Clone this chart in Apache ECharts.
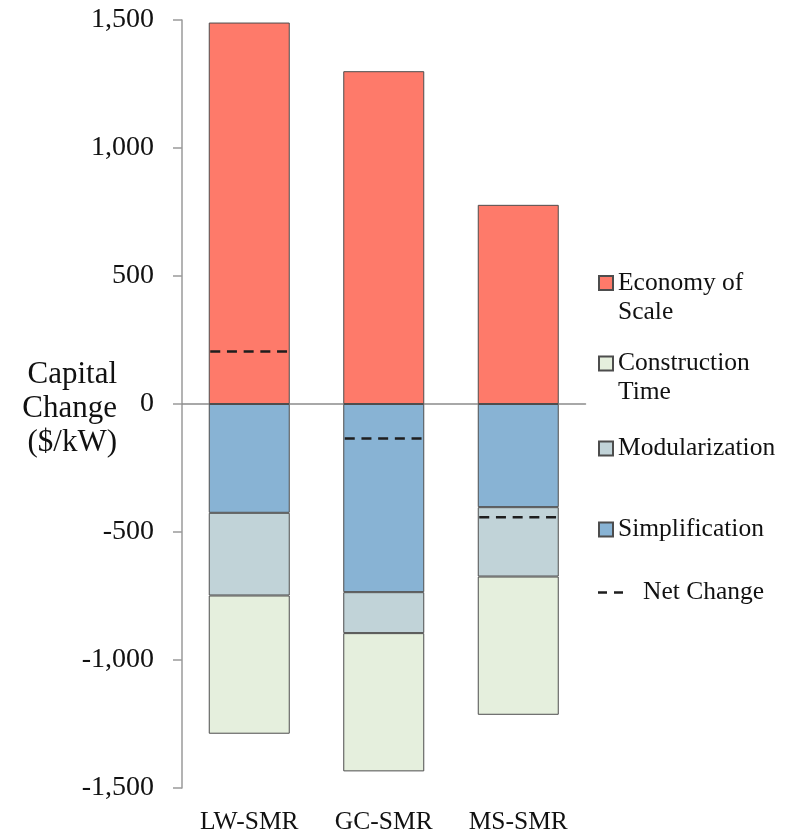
<!DOCTYPE html>
<html>
<head>
<meta charset="utf-8">
<script src="https://cdn.jsdelivr.net/npm/echarts@6/dist/echarts.min.js"></script>
<style>
  html, body { margin: 0; padding: 0; background: #fff; }
  #chart { width: 795px; height: 836px; }
</style>
</head>
<body>
<div id="chart"></div>
<script>
// Capital cost change by driver for three small modular reactor designs ($/kW)
const categories = ['LW-SMR', 'GC-SMR', 'MS-SMR'];
const economyOfScale = [1490, 1300, 778];
const simplification = [-425, -735, -403];
const modularization = [-323, -160, -271];
const constructionTime = [-540, -540, -540];
const netChange = [205, -135, -442];
const yTicks = [-1500, -1000, -500, 0, 500, 1000, 1500];

const FONT = '"Liberation Serif", "Times New Roman", serif';
const BORDER = '#4d4d4d';
const COLORS = {
  economy: '#FE7A6A',
  construction: '#E5EFDD',
  modular: '#C1D3D8',
  simplify: '#88B3D4',
  net: '#1e1e1e'
};

// square swatch for single-line entries; the taller variant keeps the swatch
// level with the first line of a two-line label
const SWATCH = 'rect';
const SWATCH_TALL = 'path://M0,0H14V14H0Z M7,43';

const chart = echarts.init(document.getElementById('chart'), null, { renderer: 'canvas' });

function barSeries(name, data, color) {
  return {
    name: name,
    type: 'bar',
    stack: 'total',
    xAxisIndex: 0,
    data: data,
    barWidth: 81,
    itemStyle: { color: color, borderColor: BORDER, borderWidth: 1 },
    emphasis: { disabled: true }
  };
}

const legendText = { fontFamily: FONT, fontSize: 25.5, color: '#111', lineHeight: 29 };

// one legend block per entry so that spacing follows the wrapped labels
function legendBlock(name, top, extra) {
  return Object.assign({
    data: [name],
    orient: 'vertical',
    left: 598,
    top: top,
    padding: 0,
    icon: SWATCH,
    itemWidth: 14,
    itemHeight: 14,
    selectedMode: false,
    textStyle: legendText
  }, extra || {});
}

const option = {
  animation: false,
  backgroundColor: '#fff',
  grid: { left: 182, top: 20, width: 403.5, height: 768, containLabel: false, outerBoundsMode: 'none' },
  xAxis: [
    {
      type: 'category',
      data: categories,
      position: 'bottom',
      axisLine: { show: false, onZero: false },
      axisTick: { show: false },
      axisLabel: { fontFamily: FONT, fontSize: 25.5, color: '#111', margin: 21, interval: 0, hideOverlap: false },
      splitLine: { show: false }
    },
    {
      type: 'category',
      data: categories,
      position: 'bottom',
      axisLine: { show: true, onZero: true, lineStyle: { color: '#8c8c8c', width: 1.5 } },
      axisTick: { show: false },
      axisLabel: { show: false },
      splitLine: { show: false }
    }
  ],
  yAxis: {
    type: 'value',
    min: yTicks[0],
    max: yTicks[yTicks.length - 1],
    interval: 500,
    // a thin spacer line on top nudges the three-line title slightly downward
    name: '{gap| }\n{t|Capital}\n{t|Change}\n{t|($/kW)}',
    nameLocation: 'middle',
    nameRotate: 0,
    nameGap: 65,
    nameMoveOverlap: false,
    nameTextStyle: {
      fontFamily: FONT, fontSize: 31, color: '#111',
      rich: {
        gap: { fontSize: 2, height: 10, lineHeight: 10 },
        t: { fontFamily: FONT, fontSize: 31, color: '#111', lineHeight: 34 }
      }
    },
    axisLine: { show: true, lineStyle: { color: '#9a9a9a', width: 1.5 } },
    axisTick: { show: true, inside: false, length: 9, lineStyle: { color: '#9a9a9a', width: 1.5 } },
    axisLabel: {
      fontFamily: FONT, fontSize: 28, color: '#111', margin: 28,
      formatter: v => v.toLocaleString('en-US')
    },
    splitLine: { show: false }
  },
  legend: [
    legendBlock('Economy of Scale', 268.5, { icon: SWATCH_TALL, itemHeight: 43, formatter: () => 'Economy of\nScale' }),
    legendBlock('Construction Time', 349, { icon: SWATCH_TALL, itemHeight: 43, formatter: () => 'Construction\nTime' }),
    legendBlock('Modularization', 434),
    legendBlock('Simplification', 515),
    legendBlock('Net Change', 578, {
      icon: 'path://M0,0H9V2.5H0Z M16,0H25V2.5H16Z',
      itemWidth: 25,
      itemHeight: 2.5,
      textStyle: Object.assign({}, legendText, { padding: [0, 0, 0, 15] })
    })
  ],
  series: [
    barSeries('Economy of Scale', economyOfScale, COLORS.economy),
    barSeries('Simplification', simplification, COLORS.simplify),
    barSeries('Modularization', modularization, COLORS.modular),
    barSeries('Construction Time', constructionTime, COLORS.construction),
    {
      name: 'Net Change',
      type: 'custom',
      xAxisIndex: 0,
      z: 10,
      itemStyle: { color: COLORS.net },
      data: netChange.map((v, i) => [i, v]),
      encode: { x: 0, y: 1 },
      renderItem: function (params, api) {
        const p = api.coord([api.value(0), api.value(1)]);
        const half = 81 / 2 - 1.5;
        return {
          type: 'line',
          shape: { x1: p[0] - half, y1: p[1], x2: p[0] + half, y2: p[1] },
          style: { stroke: COLORS.net, lineWidth: 2.5, lineDash: [10, 6.7], fill: null }
        };
      }
    }
  ]
};

chart.setOption(option);
</script>
</body>
</html>
